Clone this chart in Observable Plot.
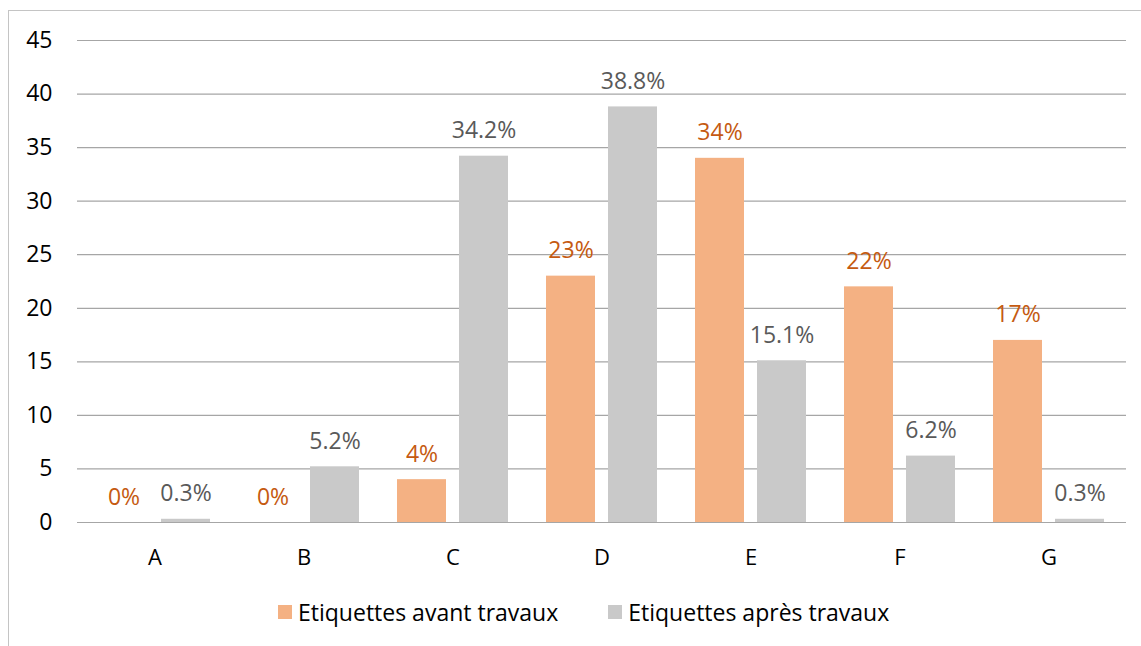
<!DOCTYPE html>
<html><head><meta charset="utf-8">
<script src="https://cdn.jsdelivr.net/npm/d3@7"></script>
<script src="https://cdn.jsdelivr.net/npm/@observablehq/plot@0.6"></script>
<style>
body{margin:0;background:#fff;font-family:"Open Sans",sans-serif;}
#wrap{position:relative;width:1141px;height:646px;overflow:hidden;}
#frame{position:absolute;left:8px;top:10px;width:1200px;height:700px;border:1px solid #c4c4c4;box-sizing:border-box;}
#chart{position:absolute;left:0;top:0;}
#legend{position:absolute;left:278px;top:596px;display:flex;align-items:center;font-size:23px;color:#000;white-space:nowrap;}
.item{display:flex;align-items:center;}
.sw{width:14px;height:14px;display:inline-block;margin-right:6px;}
</style></head><body>
<div id="wrap"><div id="frame"></div><div id="chart"></div><div id="legend"></div></div>
<script>
const categories = ["A","B","C","D","E","F","G"];
const seriesNames = ["Etiquettes avant travaux","Etiquettes après travaux"];
const avant = [0,0,4,23,34,22,17];
const apres = [0.3,5.2,34.2,38.8,15.1,6.2,0.3];
const avantLabels = ["0%","0%","4%","23%","34%","22%","17%"];
const apresLabels = ["0.3%","5.2%","34.2%","38.8%","15.1%","6.2%","0.3%"];
const yTicks = [0,5,10,15,20,25,30,35,40,45];
const colors = ["#F4B183","#C9C9C9"];
const labelColors = ["#C55A11","#595959"];

const avantData = categories.map((c,i)=>({cat:c, value:avant[i], label:avantLabels[i]}));
const apresData = categories.map((c,i)=>({cat:c, value:apres[i], label:apresLabels[i]}));

const chart = Plot.plot({
  width:1141, height:580,
  marginLeft:77, marginRight:15, marginTop:40, marginBottom:58,
  style:{fontFamily:"'Open Sans', sans-serif", color:"#000", background:"transparent"},
  x:{domain:categories, padding:0, axis:null},
  y:{domain:[0,45], axis:null},
  marks:[
    Plot.ruleY(yTicks,{stroke:"#a6a6a6", strokeWidth:1.2}),
    Plot.barY(avantData,{x:"cat", y:"value", fill:colors[0], insetLeft:19, insetRight:81}),
    Plot.barY(apresData,{x:"cat", y:"value", fill:colors[1], insetLeft:81, insetRight:19}),
    Plot.text(avantData,{x:"cat", y:"value", text:"label", dx:-31, dy:-18, lineAnchor:"bottom", fill:labelColors[0], fontSize:23}),
    Plot.text(apresData,{x:"cat", y:"value", text:"label", dx:31, dy:-18, lineAnchor:"bottom", fill:labelColors[1], fontSize:23}),
    Plot.axisY(yTicks,{tickSize:0, tickPadding:25, fontSize:23, fill:"#000", label:null}),
    Plot.axisX({tickSize:0, tickPadding:27, fontSize:22, fill:"#000", label:null})
  ]
});
document.getElementById("chart").appendChild(chart);

const legend = document.getElementById("legend");
seriesNames.forEach((name,i)=>{
  const it = document.createElement("div");
  it.className="item";
  if(i>0) it.style.marginLeft="50px";
  const sw = document.createElement("span");
  sw.className="sw"; sw.style.background=colors[i];
  const tx = document.createElement("span");
  tx.textContent=name;
  it.appendChild(sw); it.appendChild(tx);
  legend.appendChild(it);
});
</script>
</body></html>
